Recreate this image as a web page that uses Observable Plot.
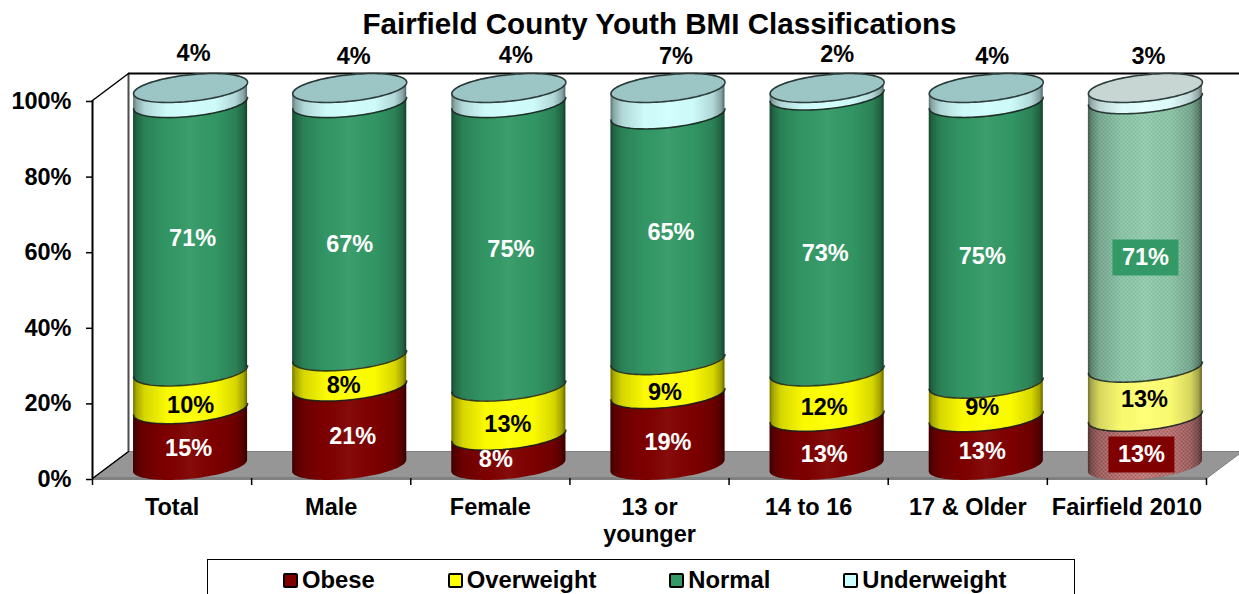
<!DOCTYPE html>
<html>
<head>
<meta charset="utf-8">
<script src="https://cdn.jsdelivr.net/npm/d3@7"></script>
<script src="https://cdn.jsdelivr.net/npm/@observablehq/plot@0.6"></script>
<style>
html,body{margin:0;padding:0;background:#fff;width:1239px;height:594px;overflow:hidden;font-family:"Liberation Sans",Arial,sans-serif;}
#title{height:37px;line-height:48px;text-align:center;font-weight:bold;font-size:29.6px;color:#000;padding-left:80px;box-sizing:border-box;width:1239px;white-space:nowrap;}
svg{display:block;}
#legend{position:absolute;left:207px;top:559px;width:868px;height:60px;box-sizing:border-box;border:1px solid #000;display:flex;padding:6px 0 0 75px;gap:73px;font-weight:bold;font-size:23.8px;color:#000;}
#legend .it{display:flex;align-items:center;height:28px;gap:4px;}
#legend i{display:block;width:11px;height:11px;border:2.5px solid #000;border-radius:2px;}
</style>
</head>
<body>
<div id="title">Fairfield County Youth BMI Classifications</div>
<div id="chart"></div>
<div id="legend"></div>
<script>
// Values
const categories = ["Total", "Male", "Female", "13 or\nyounger", "14 to 16", "17 & Older", "Fairfield 2010"];
const obese       = [15, 21,  8, 19, 13, 13, 13];
const overweight  = [10,  8, 13,  9, 12,  9, 13];
const normal      = [71, 67, 75, 65, 73, 75, 71];
const underweight = [ 4,  4,  4,  7,  2,  4,  3];
const seriesNames = ["Obese", "Overweight", "Normal", "Underweight"];
const seriesValues = [obese, overweight, normal, underweight];
const seriesColors = ["#800000", "#ffff00", "#339966", "#ccffff"];
const capColor = "#8fbdbd";
const yTicks = [0, 20, 40, 60, 80, 100];
const hatched = "Fairfield 2010";

// Drawing constants
const W = 1239, plotLeft = 92, plotRight = 1206, plotTop = 100, plotBottom = 478, svgTop = 37, svgHeight = 513;
const unitX = (plotRight - plotLeft) / categories.length, unitY = (plotBottom - plotTop) / 100;
const halfW = 57 / unitX, ry = 13.3 / unitY, shear = 5.7 / unitY;
const depthX = 36 / unitX, depthY = 27 / unitY;
const cylDx = 18.5, cylDy = -12.5, labelDy = -10.5;
const thetas = d3.range(0, 49).map(k => Math.PI - k * Math.PI / 48);

// Hand-placed label offsets of the original, pixels from each segment's middle
const nudgeX = [[-2,3,-13,0,-3,-4,-4],[0,-6,-1,-3,-3,-4,-1],[2,0,2,3,-2,-4,0],[3,4,7,8,10,6,3]];
const nudgeY = [[9,8,7,10,11,8,11],[13,12,11,13,11,5,5],[-1,13,3,-7,18,11,22],[-44,-41,-42,-47,-39,-41,-39]];

const segments = categories.flatMap((c, i) => {
  const total = d3.sum(seriesValues, v => v[i]);
  let cum = 0;
  return seriesNames.map((s, k) => {
    const y1 = cum * 100 / total; cum += seriesValues[k][i];
    const y2 = cum * 100 / total;
    return {id: c + s, c, i, k, s, y1, y2, value: seriesValues[k][i], fill: seriesColors[k]};
  });
});
const bodyPts = segments.flatMap(d => thetas.map(th => {
  const t = Math.cos(th), f = Math.sin(th);
  return {...d, x: d.i + .5 + t * halfW,
    lo: d.y1 + shear * t - ry * f, hi: d.y2 + shear * t - ry * f};
}));
const capPts = categories.flatMap((c, i) => thetas.map(th => {
  const t = Math.cos(th), f = Math.sin(th);
  return {id: c, c, i, x: i + .5 + t * halfW, lo: 100 + shear * t - ry * f, hi: 100 + shear * t + ry * f};
}));
const capOutline = categories.flatMap((c, i) => d3.range(0, 97).map(k => {
  const th = k * Math.PI / 48;
  return {id: c, x: i + .5 + Math.cos(th) * halfW, y: 100 + shear * Math.cos(th) + ry * Math.sin(th)};
}));
const isHatched = d => d.c === hatched;
const patternFor = d => isHatched(d) ? "url(#hatchStrong)" : d.k === 3 ? "url(#hatchFaint)" : "none";

// Chart frame (walls + floor), derived from the axes and the depth of the box
const nCat = categories.length;
const floor = [[0,0],[nCat,0],[nCat+depthX,depthY],[depthX,depthY],[0,0]].map(([x,y]) => ({x,y}));
const xEnd = (W - plotLeft) / unitX;

function defs() {
  const g = d3.create("svg:defs");
  const grad = g.append("linearGradient").attr("id", "shade").attr("x1", 0).attr("x2", 1).attr("y1", 0).attr("y2", 0);
  [[0,"#000",.55],[.03,"#000",.34],[.1,"#000",.16],[.3,"#000",.02],[.5,"#fff",.05],[.72,"#000",.02],[.9,"#000",.16],[.97,"#000",.36],[1,"#000",.6]]
    .forEach(([o,c,a]) => grad.append("stop").attr("offset", o).attr("stop-color", c).attr("stop-opacity", a));
  const mk = (id, lo, hi) => {
    const p = g.append("pattern").attr("id", id).attr("patternUnits", "userSpaceOnUse").attr("width", 4).attr("height", 4);
    p.append("rect").attr("width", 4).attr("height", 4).attr("fill", "#fff").attr("fill-opacity", lo);
    p.append("rect").attr("width", 2).attr("height", 2).attr("fill", "#fff").attr("fill-opacity", hi);
    p.append("rect").attr("x", 2).attr("y", 2).attr("width", 2).attr("height", 2).attr("fill", "#fff").attr("fill-opacity", hi);
  };
  mk("hatchStrong", .34, .32);
  mk("hatchFaint", .06, .12);
  return g.node();
}

const rectSym = {draw(ctx) { ctx.moveTo(-33,-18); ctx.lineTo(33,-18); ctx.lineTo(33,18); ctx.lineTo(-33,18); ctx.closePath(); }};
const labelFont = {fontFamily: '"Liberation Sans", Arial, sans-serif', fontWeight: "bold", fontSize: 23.5};

// Labels, one mark each so that each keeps its own offset
const labelMarks = segments.flatMap(d => {
  const mid = (d.y1 + d.y2) / 2, px = {x: d.i + .5, y: mid};
  const dx = cylDx + nudgeX[d.k][d.i], dy = labelDy + nudgeY[d.k][d.i];
  const color = d.k === 0 || d.k === 2 ? "#fff" : "#000";
  const out = [];
  if (isHatched(d) && (d.k === 0 || d.k === 2))
    out.push(Plot.dot([px], {x: "x", y: "y", dx, dy, symbol: rectSym, fill: d.fill, stroke: "none"}));
  out.push(Plot.text([px], {x: "x", y: "y", dx, dy, text: () => d.value + "%", fill: color, ...labelFont}));
  return out;
});

const chart = Plot.plot({
  width: W, height: svgHeight,
  marginLeft: plotLeft, marginRight: W - plotRight, marginTop: plotTop - svgTop, marginBottom: svgTop + svgHeight - plotBottom,
  style: {background: "#fff", overflow: "visible"},
  x: {type: "linear", domain: [0, nCat], axis: null},
  y: {type: "linear", domain: [0, 100], axis: null},
  marks: [
    defs,
    // floor and walls
    Plot.line(floor, {x: "x", y: "y", fill: "#969696", stroke: "#808080", strokeWidth: 1}),
    Plot.ruleY([0], {x1: 0, x2: nCat, stroke: "#808080", strokeWidth: 3}),
    Plot.ruleX([depthX], {y1: depthY, y2: 100 + depthY, stroke: "#4d4d4d", strokeWidth: 2}),
    Plot.ruleY([100 + depthY], {x1: depthX, x2: xEnd, stroke: "#000", strokeWidth: 2}),
    Plot.line([{x:0,y:100},{x:depthX,y:100+depthY}], {x:"x", y:"y", stroke:"#000", strokeWidth:1.5}),
    Plot.line([{x:0,y:0},{x:depthX,y:depthY}], {x:"x", y:"y", stroke:"#000", strokeWidth:1.5}),
    Plot.ruleX([0], {y1: 0, y2: 100, stroke: "#000", strokeWidth: 2}),
    // axes
    Plot.axisY({ticks: yTicks, tickSize: 6, tickFormat: d => d + "%", tickPadding: 15, stroke: "#000", strokeWidth: 1.5, label: null, dy: 1, ...labelFont}),
    Plot.axisX({ticks: d3.range(0, nCat + 1), tickSize: 7, tickFormat: () => "", tickPadding: 0, stroke: "#000", strokeWidth: 1.5, label: null}),
    Plot.text(categories, {x: (d, i) => i + .5, y: 0, text: d => d, dy: 17, lineAnchor: "top", textAnchor: "middle", lineHeight: 1.15, ...labelFont}),
    // cylinders
    Plot.areaY(bodyPts, {x: "x", y1: "lo", y2: "hi", z: "id", fill: "fill", dx: cylDx, dy: cylDy, curve: "linear"}),
    Plot.areaY(bodyPts.filter(d => patternFor(d) !== "none"), {x: "x", y1: "lo", y2: "hi", z: "id", fill: patternFor, dx: cylDx, dy: cylDy, curve: "linear"}),
    Plot.areaY(bodyPts, {x: "x", y1: "lo", y2: "hi", z: "id", fill: () => "url(#shade)", dx: cylDx, dy: cylDy, curve: "linear"}),
    Plot.line(bodyPts.filter(d => d.k > 0), {x: "x", y: "lo", z: "id", stroke: "#16211c", strokeWidth: 1.6, strokeOpacity: .85, dx: cylDx, dy: cylDy, curve: "linear"}),
    Plot.areaY(capPts, {x: "x", y1: "lo", y2: "hi", z: "id", fill: d => d.c === hatched ? "#c0cfcd" : capColor, dx: cylDx, dy: cylDy, curve: "linear"}),
    Plot.areaY(capPts, {x: "x", y1: "lo", y2: "hi", z: "id", fill: () => "url(#hatchFaint)", dx: cylDx, dy: cylDy, curve: "linear"}),
    Plot.line(capOutline, {x: "x", y: "y", z: "id", stroke: "#1c2b28", strokeWidth: 1.6, strokeOpacity: .9, dx: cylDx, dy: cylDy, curve: "linear"}),
    ...labelMarks
  ]
});
document.getElementById("chart").appendChild(chart);

const legend = d3.select("#legend");
seriesNames.forEach((s, k) => {
  const it = legend.append("div").attr("class", "it");
  it.append("i").style("background", seriesColors[k]);
  it.append("span").text(s);
});
</script>
</body>
</html>
